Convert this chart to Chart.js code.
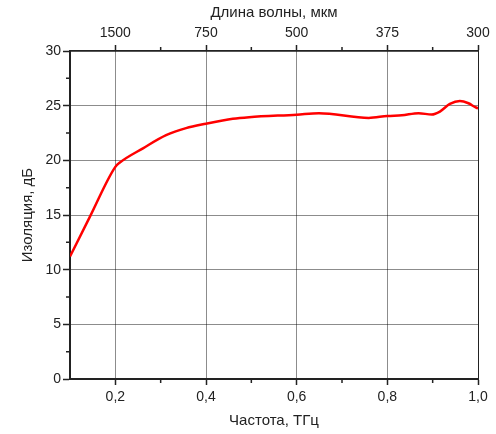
<!DOCTYPE html>
<html>
<head>
<meta charset="utf-8">
<script src="https://cdn.jsdelivr.net/npm/chart.js@4"></script>
<style>
  body { margin: 0; background: #fff; }
  #wrap { width: 496px; height: 434px; }
</style>
</head>
<body>
<div id="wrap"><canvas id="myChart"></canvas></div>
<script>
// frequency, THz
const freq = [0.1, 0.144, 0.2, 0.21, 0.261, 0.312, 0.356, 0.4, 0.459, 0.495, 0.6, 0.649,
  0.759, 0.8, 0.832, 0.869, 0.898, 0.916, 0.938, 0.96, 0.979, 0.994, 1.0];
// isolation, dB
const isolation = [11.2, 14.85, 19.4, 19.8, 21.1, 22.3, 22.95, 23.35, 23.8, 23.95, 24.18, 24.31,
  23.88, 24.06, 24.12, 24.31, 24.19, 24.46, 25.16, 25.43, 25.22, 24.86, 24.75];

const freqTicks = [0.2, 0.4, 0.6, 0.8, 1.0];
const freqLabels = ["0,2", "0,4", "0,6", "0,8", "1,0"];
const waveLabels = ["1500", "750", "500", "375", "300"];
const freqMinor = [0.3, 0.5, 0.7, 0.9];
const isoMinor = [2.5, 7.5, 12.5, 17.5, 22.5, 27.5];

const font = { family: "'Liberation Sans', Arial, sans-serif", size: 14 };
const titleFont = { family: "'Liberation Sans', Arial, sans-serif", size: 15 };

const minorTicks = {
  id: "minorTicks",
  afterDraw(chart) {
    const ctx = chart.ctx;
    const x = chart.scales.x;
    const y = chart.scales.y;
    const area = chart.chartArea;
    ctx.save();
    ctx.strokeStyle = "#222";
    ctx.lineWidth = 1.5;
    ctx.beginPath();
    freqMinor.forEach((v) => {
      const px = x.getPixelForValue(v);
      ctx.moveTo(px, area.bottom);
      ctx.lineTo(px, area.bottom + 4);
      ctx.moveTo(px, area.top);
      ctx.lineTo(px, area.top - 4);
    });
    isoMinor.forEach((v) => {
      const py = y.getPixelForValue(v);
      ctx.moveTo(area.left, py);
      ctx.lineTo(area.left - 4, py);
    });
    ctx.stroke();
    ctx.restore();
  },
};

function gridColor(c) {
  return c.tick && c.tick.value === 1 ? "#222" : "rgba(0,0,0,0.45)";
}

const data = {
  datasets: [
    {
      data: freq.map((f, i) => ({ x: f, y: isolation[i] })),
      borderColor: "#ff0000",
      borderWidth: 2.5,
      pointRadius: 0,
      cubicInterpolationMode: "monotone",
      tension: 0.4,
    },
  ],
};

const config = {
  type: "line",
  data,
  options: {
    responsive: true,
    maintainAspectRatio: false,
    animation: false,
    layout: { padding: { right: 18, left: 0, top: 0, bottom: 0 } },
    plugins: { legend: { display: false }, tooltip: { enabled: false } },
    scales: {
      x: {
        type: "linear",
        position: "bottom",
        min: 0.1,
        max: 1.0,
        afterBuildTicks: (s) => { s.ticks = freqTicks.map((v) => ({ value: v })); },
        afterFit: (s) => { s.height = 55; },
        ticks: {
          color: "#222",
          font,
          padding: 4,
          maxRotation: 0,
          callback: (v) => freqLabels[freqTicks.indexOf(Math.round(v * 10) / 10)],
        },
        grid: { color: gridColor, lineWidth: 1, tickColor: "#222", tickLength: 6, tickWidth: 1.5 },
        border: { color: "#222", width: 2 },
        title: { display: true, text: "Частота, ТГц", color: "#222", font: titleFont, padding: { top: 2, bottom: 4 } },
      },
      x2: {
        type: "linear",
        position: "top",
        min: 0.1,
        max: 1.0,
        afterBuildTicks: (s) => { s.ticks = freqTicks.map((v) => ({ value: v })); },
        afterFit: (s) => { s.height = 51; },
        ticks: {
          color: "#222",
          font,
          padding: 3,
          maxRotation: 0,
          callback: (v) => waveLabels[freqTicks.indexOf(Math.round(v * 10) / 10)],
        },
        grid: { drawOnChartArea: false, tickColor: "#222", tickLength: 6, tickWidth: 1.5 },
        border: { color: "#222", width: 1.5 },
        title: { display: true, text: "Длина волны, мкм", color: "#222", font: titleFont, padding: { top: 4, bottom: 2 } },
      },
      y: {
        min: 0,
        max: 30,
        ticks: { stepSize: 5, color: "#222", font, padding: 2 },
        afterFit: (s) => { s.width = 70; },
        grid: { color: "rgba(0,0,0,0.45)", lineWidth: 1, tickColor: "#222", tickLength: 7, tickWidth: 1.5 },
        border: { color: "#222", width: 2 },
        title: { display: true, text: "Изоляция, дБ", color: "#222", font: titleFont, padding: { top: 19, bottom: 0 } },
      },
    },
  },
  plugins: [minorTicks],
};

const myChart = new Chart(document.getElementById("myChart"), config);
</script>
</body>
</html>
